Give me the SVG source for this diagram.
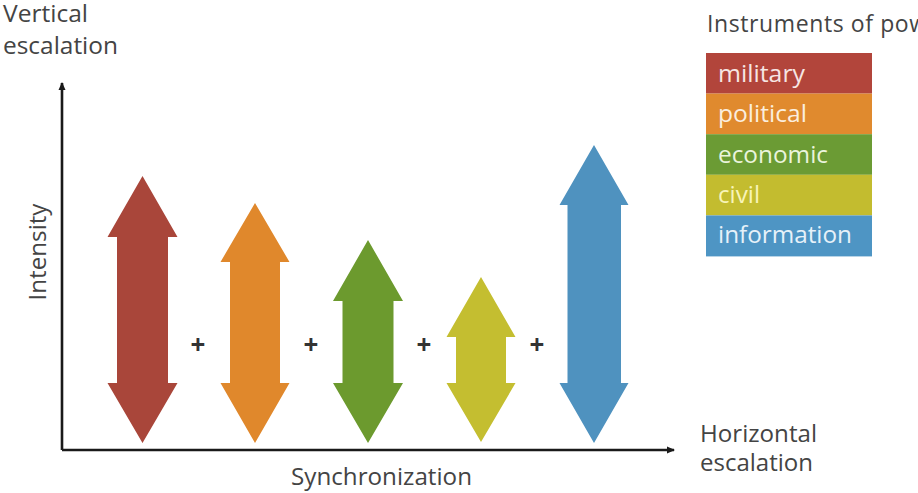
<svg xmlns="http://www.w3.org/2000/svg" width="918" height="493" viewBox="0 0 918 493">
<defs>
<style>
text{font-family:"Open Sans","Liberation Sans",sans-serif;}
.lbl{font-size:23px;fill:#444;}
.leg{font-size:23px;}
.plus{font-size:26px;font-weight:bold;fill:#333;text-anchor:middle;}
.axis{stroke:#1a1a1a;stroke-width:2.6;fill:none;}
</style>
<marker id="ah" viewBox="0 0 10 10" refX="7" refY="5" markerWidth="4" markerHeight="4" orient="auto" markerUnits="strokeWidth">
<path d="M0,1.5 L8,5 L0,8.5 Z" fill="#1a1a1a"/>
</marker>
</defs>
<rect width="918" height="493" fill="#ffffff"/>

<g id="connectors">
<path class="axis" d="M62,450 L62,83" marker-end="url(#ah)"/>
<path class="axis" d="M62,450 L674,450" marker-end="url(#ah)"/>
</g>

<g id="labels">
<text class="lbl" x="3" y="22" textLength="85" lengthAdjust="spacingAndGlyphs">Vertical</text>
<text class="lbl" x="3" y="54" textLength="115" lengthAdjust="spacingAndGlyphs">escalation</text>
<text class="lbl" transform="translate(46,252) rotate(-90)" text-anchor="middle" textLength="97" lengthAdjust="spacingAndGlyphs">Intensity</text>
<text class="lbl" x="291" y="485" textLength="181" lengthAdjust="spacingAndGlyphs">Synchronization</text>
<text class="lbl" x="700" y="442" textLength="117" lengthAdjust="spacingAndGlyphs">Horizontal</text>
<text class="lbl" x="700" y="471" textLength="113" lengthAdjust="spacingAndGlyphs">escalation</text>
</g>

<g id="arrow-military">
<path fill="#a9463a" d="M142.5,176 L177.5,237 L168,237 L168,383 L177.5,383 L142.5,443 L107.5,383 L117,383 L117,237 L107.5,237 Z"/>
</g>
<g id="arrow-political">
<path fill="#e0882c" d="M255,203 L289.5,262 L280,262 L280,383 L289.5,383 L255,443 L220.5,383 L230,383 L230,262 L220.5,262 Z"/>
</g>
<g id="arrow-economic">
<path fill="#6c9a2e" d="M368,240 L403,301 L393.5,301 L393.5,383 L403,383 L368,443 L333,383 L342.5,383 L342.5,301 L333,301 Z"/>
</g>
<g id="arrow-civil">
<path fill="#c4be30" d="M481,277 L515.5,337 L506,337 L506,383 L515.5,383 L481,442 L446.5,383 L456,383 L456,337 L446.5,337 Z"/>
</g>
<g id="arrow-information">
<path fill="#4f92bf" d="M594,145 L628.5,205 L621,205 L621,383 L628.5,383 L594,443 L559.5,383 L567.5,383 L567.5,205 L559.5,205 Z"/>
</g>

<g id="plus-signs">
<text class="plus" x="198" y="354">+</text>
<text class="plus" x="311" y="354">+</text>
<text class="plus" x="424" y="354">+</text>
<text class="plus" x="537" y="354">+</text>
</g>

<g id="legend">
<text class="lbl" x="707" y="32" letter-spacing="0.6">Instruments of power</text>
<g id="legend-military">
<rect x="706" y="53" width="166" height="40.6" fill="#b2453b"/>
<text class="leg" x="718" y="82" fill="#f6e6e4" textLength="87" lengthAdjust="spacingAndGlyphs">military</text>
</g>
<g id="legend-political">
<rect x="706" y="93.6" width="166" height="40.6" fill="#e08a2e"/>
<text class="leg" x="718" y="122" fill="#fbeede" textLength="89" lengthAdjust="spacingAndGlyphs">political</text>
</g>
<g id="legend-economic">
<rect x="706" y="134.2" width="166" height="40.6" fill="#6b9b34"/>
<text class="leg" x="718" y="163" fill="#eaf4dc" textLength="110" lengthAdjust="spacingAndGlyphs">economic</text>
</g>
<g id="legend-civil">
<rect x="706" y="174.8" width="166" height="40.6" fill="#c3bc2f"/>
<text class="leg" x="718" y="203" fill="#f8f4b8" textLength="42" lengthAdjust="spacingAndGlyphs">civil</text>
</g>
<g id="legend-information">
<rect x="706" y="215.4" width="166" height="41" fill="#4e95c4"/>
<text class="leg" x="718" y="243" fill="#e6f1f9" textLength="134" lengthAdjust="spacingAndGlyphs">information</text>
</g>
</g>
</svg>
